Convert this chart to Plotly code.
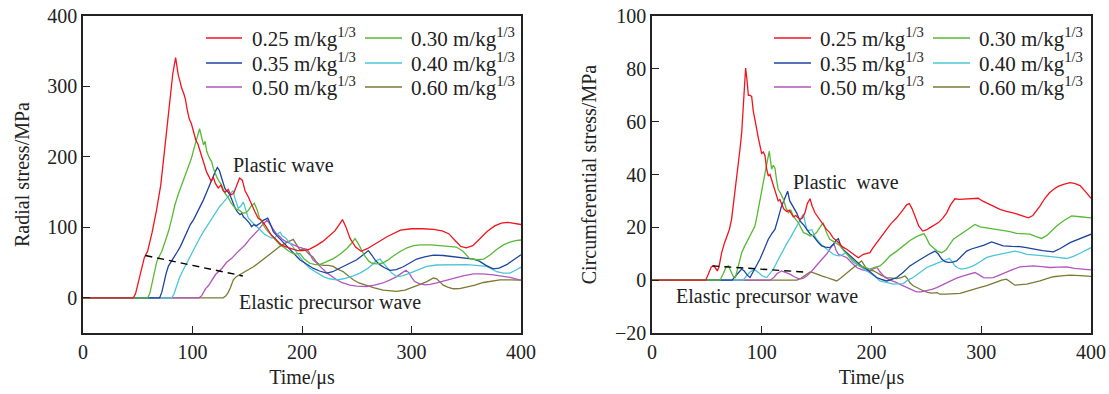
import plotly.graph_objects as go

# ---------------- radial stress (left panel) ----------------
RAD_T_025 = [0, 46, 48, 50, 53, 56, 59, 63, 67, 71, 75, 79, 82, 84.6, 87, 88.5, 90, 92, 93.5, 95, 97, 99, 101, 103, 105, 107, 109, 111, 113, 115, 117, 119, 121, 123.5, 126, 128, 130, 132.5, 135, 137.5, 140, 143, 145.5, 148, 151, 154, 157, 160, 163, 166, 169, 172, 176, 181, 186, 191, 196, 201, 207, 213, 219, 225, 230, 234, 237, 240, 244, 249, 254, 260, 268, 278, 290, 300, 310, 320, 328, 334, 340, 345, 350, 356, 362, 369, 376, 382, 388, 394, 400]
RAD_S_025 = [0, 0, 6, 18, 40, 57, 66, 92, 123, 160, 217, 280, 318, 341, 316, 308, 298, 290, 282, 268, 254, 247, 235, 224, 218, 208, 200, 190, 178, 172, 165, 171, 162, 156, 160, 152, 150, 154, 146, 148, 158, 170, 167, 152, 143, 132, 122, 113, 110, 104, 96, 89, 83, 75, 72, 70, 67, 67, 69, 74, 80, 88, 95, 104, 111, 101, 84, 72, 66, 70, 78, 87, 96, 98, 98, 97, 95, 91, 81, 73, 71, 74, 83, 94, 102, 106, 107, 106, 104]

RAD_T_030 = [0, 59, 61, 63, 65, 67.3, 70, 72, 75, 78, 81, 84, 87, 90, 93, 96, 99, 101, 103, 105, 106.5, 108, 110, 111.5, 113, 115, 117.5, 119, 120.5, 122, 124, 126.6, 129, 131, 133, 135, 137, 139, 141, 143, 146, 149, 151, 153.5, 156.5, 159, 161, 163, 166, 169, 172, 176, 180, 184, 188, 193, 198, 202, 207, 212, 216, 222, 229, 235, 241, 245, 248.4, 251, 254, 257, 261, 264, 268, 273, 278, 283, 290, 296, 302, 308, 318, 326, 334, 341, 347, 353, 360, 366, 372, 378, 384, 390, 395, 400]
RAD_S_030 = [0, 0, 6, 20, 35, 51, 60, 66, 80, 94, 112, 132, 147, 160, 172, 184, 198, 210, 222, 234, 240, 230, 217, 222, 208, 200, 193, 184, 177, 172, 166, 160, 150, 146, 141, 135, 130, 127, 125, 124, 120, 121, 124, 130, 134, 125, 114, 108, 100, 94, 89, 82, 75, 71, 66, 62, 63, 55, 49, 47, 47, 51, 56, 62, 70, 77, 84, 78, 68, 60, 52, 49, 48, 49, 53, 59, 66, 71, 74, 75, 75, 74, 73, 72, 66, 56, 54, 55, 61, 69, 75, 79, 81, 82]

RAD_T_035 = [0, 70, 72, 74, 76, 78, 80, 83, 86, 89, 92, 95, 98, 101, 104, 107, 110, 113, 115.5, 118, 120.5, 122.7, 124.5, 126.6, 128, 129.7, 131, 132.5, 134.2, 136, 137.5, 139, 141, 143.4, 145, 146.5, 148, 150, 152, 154, 156, 158, 160, 162, 164.5, 166.5, 168.7, 171, 173.8, 176, 178.5, 181.4, 184, 187, 190.6, 194, 198, 204, 210, 216, 222.5, 228, 234.7, 240, 245, 250, 255, 260.6, 264, 267, 271, 275, 280.4, 286, 292.5, 298, 304.7, 312, 320, 329, 338, 347, 356.5, 362, 368, 374.7, 380, 386.9, 393, 400]
RAD_S_035 = [0, 0, 8, 22, 35, 45, 50, 56, 65, 73, 84, 95, 104, 111, 120, 130, 139, 150, 160, 169, 178, 185, 181, 170, 162, 155, 152, 150, 146, 138, 131, 127, 122, 118, 120, 115, 113, 110, 106, 101, 104, 102, 104, 106, 110, 112, 113, 105, 94, 90, 86, 80, 76, 71, 66, 60, 54, 48, 42, 38, 35, 37, 42, 46, 50, 54, 60, 67, 60, 53, 47, 43, 39, 40, 44, 49, 55, 58, 60.5, 60, 58.6, 57, 55, 52, 46, 41, 42, 47, 54, 61]

RAD_T_040 = [0, 81, 83, 85, 88, 91, 94.7, 98, 101, 103.8, 107, 110, 112.9, 116, 119, 122, 125, 128, 130.5, 132.7, 135, 137, 139, 141.8, 144, 146.4, 148, 151, 154, 157, 160, 163.2, 166, 169.3, 172, 175.3, 178, 180, 182, 185, 188, 192, 198, 202, 207, 213, 219.5, 225, 231.7, 238, 246.8, 253, 259, 265, 268, 271.2, 274, 276, 278.8, 282, 286.5, 292, 298.6, 306, 313.9, 323, 332, 341, 350.3, 359, 368.7, 373, 377.8, 384, 390, 395, 400]
RAD_S_040 = [0, 0, 5, 15, 28, 38, 49, 60, 70, 78, 86, 94, 101, 109, 116, 123, 130, 135, 140, 144, 149, 152, 140, 127, 130, 136, 128, 113, 108, 104, 99, 94, 90, 87, 85, 85, 91, 93, 88, 85, 80, 72, 58, 50, 42, 36, 30, 27, 25.5, 27, 31, 35, 40.6, 48, 53, 55, 50, 45, 40, 35, 30, 31, 35, 40, 44.5, 46.5, 47, 47, 47, 46, 44.5, 41, 37, 35, 35, 39, 43.5]

RAD_T_050 = [0, 106, 108.4, 110, 112, 114.5, 117, 119, 121, 123.6, 127, 131, 135.8, 140, 144, 148, 152, 156, 160, 163, 166.2, 168, 170, 173, 176, 179, 182, 185, 189, 193, 197, 201, 204, 206, 208, 210, 213, 216, 219.5, 223, 227, 231.7, 236, 243.8, 250, 259, 266, 274, 280, 286.5, 291, 295, 298, 300, 303, 307, 312.3, 317, 323, 330, 338.2, 347, 356.5, 365, 374.7, 382, 390, 395, 400]
RAD_S_050 = [0, 0, 3, 8, 13, 17, 23, 28, 33, 37, 42, 50, 56, 63, 69, 75, 83, 89, 96, 102, 108, 110, 106, 98, 92, 88, 83, 80, 77, 74, 72, 70, 69, 66, 60, 54, 50, 45, 40, 35, 30, 25.5, 22, 18, 16.5, 16, 18, 21, 25, 30, 35, 39, 35, 29, 23, 20, 18.4, 19, 21, 24, 28, 31, 34, 34, 32.6, 31, 29, 27, 25]

RAD_T_060 = [0, 128, 130, 132, 134.5, 137.3, 140, 143.4, 147, 151, 155.6, 160, 164, 167.7, 172, 176, 179.9, 184, 188, 192, 194, 196, 198, 201, 204, 207, 210, 213, 216, 220, 224, 228.6, 232, 237.7, 242, 246.8, 252, 259, 266, 274, 280, 286.5, 294, 301.6, 308, 313.9, 318, 320, 323, 326, 329, 333, 338.2, 344, 350.3, 358, 365.6, 373, 380.8, 390, 400]
RAD_S_060 = [0, 0, 2, 6, 14, 25.5, 30, 33, 36, 40, 44, 49, 54, 59, 64, 69, 73, 77, 80, 83, 78, 72, 68, 69, 66, 61, 58, 51, 47, 46, 46, 44.5, 41, 37, 32, 25.5, 21, 17, 14, 11, 10, 9, 11, 15, 19, 23, 27, 28, 27, 22, 18, 15, 12.8, 13, 15, 18, 21.7, 24, 25.5, 25.5, 25]

RAD_GUIDE_T = [57, 146]
RAD_GUIDE_S = [60, 31]

# ---------------- circumferential stress (right panel) ----------------
CIR_T_025 = [0, 49, 52, 54, 56.5, 58, 59.5, 61, 63.5, 66, 68, 70.5, 72.5, 74, 76, 78.7, 80, 81.7, 83, 84.3, 85.3, 86.5, 87.8, 89, 90.8, 92.3, 93.9, 95.5, 96.9, 98.5, 99.9, 101.5, 103, 104.5, 106, 107.5, 109, 110.5, 112, 113.5, 115, 116.5, 118, 120, 122.7, 125, 128.8, 131, 134.8, 137, 139.4, 141.5, 144, 146, 148.5, 151, 153, 156, 159, 162, 165, 168, 171.3, 174, 177.4, 181, 185, 188, 192.6, 198.6, 201, 204.7, 209, 213.8, 218, 223, 229, 232, 234.5, 237, 239.6, 243, 246.6, 250, 253.3, 257, 261, 265, 268.5, 272, 276, 280, 286.7, 292, 297.3, 301, 305, 311, 317, 323, 329, 336, 343, 347, 350, 353.5, 358, 362, 365.7, 370, 375, 380.9, 385, 390, 395, 400]
CIR_S_025 = [0, 0, 3, 5, 5.4, 4.5, 3.5, 5, 10.4, 14, 16, 19.2, 23, 28, 34, 43, 49, 55.7, 64, 73, 80.3, 76, 70, 70, 69.6, 64, 61, 57, 53.8, 50, 48, 48.5, 47, 42, 39.4, 40, 38, 36, 34, 32, 30, 30.5, 28.7, 27, 26, 26.5, 24, 24.5, 23, 23.5, 25.5, 29, 30.8, 28, 25.5, 24, 22.4, 21, 19.2, 18, 16, 15, 13.6, 12.5, 11.7, 10.5, 9.2, 8.5, 9.8, 10.4, 12, 14.2, 16.5, 19.2, 21.5, 23.6, 26.8, 28.5, 29, 27, 24.3, 20.5, 18.6, 19, 19.9, 20.8, 21.8, 23.5, 25.5, 28.5, 30.8, 30.6, 30.8, 30.8, 31, 30, 29.3, 28, 26.8, 26, 25.5, 24.5, 23.6, 24.5, 26, 28, 31, 33, 34.3, 35.5, 36.3, 36.9, 36.6, 35.8, 33.5, 31]

CIR_T_030 = [0, 62, 65, 67.5, 69.6, 72, 74, 76, 78, 80, 81.7, 84, 87.8, 91, 93.8, 96, 98.4, 101, 103, 105, 106.9, 108, 109, 110.5, 112, 113.5, 115, 117, 119.7, 122, 124.2, 126.5, 128.8, 131, 133.3, 135.5, 138, 141, 144, 147, 150, 153, 156, 159, 162, 166, 171.3, 175, 180.4, 185, 189.5, 194, 198.6, 203, 207.7, 212, 216.9, 223, 229, 235, 241, 245, 247.8, 250, 253, 256.3, 260, 264, 268, 274.6, 280, 285, 290, 294.3, 299, 303.4, 310, 317, 325, 332.3, 338, 344.4, 350, 355, 360, 364, 368.7, 375, 382.4, 390, 400]
CIR_S_030 = [0, 0, 2.5, 5, 5.4, 3.5, 1.5, 1, 4, 8, 10.4, 12.5, 15.5, 18, 20.5, 25, 30.6, 36, 40.6, 45, 48.8, 45, 42, 43.5, 42.5, 38, 34.3, 33, 30.6, 27.5, 25.5, 26.5, 24.3, 23, 21.8, 20, 18, 17.5, 16.7, 17, 18, 20, 21.8, 18, 15.5, 14.5, 13, 11, 8.6, 7, 5.4, 4.8, 4.2, 4.8, 5.4, 7, 9.2, 11, 13, 15, 16.5, 17.3, 17.6, 16, 13.5, 12.3, 11, 10.4, 11.5, 15.5, 17, 18.6, 20, 21.1, 20.2, 19.9, 19.6, 19.2, 18.5, 17.7, 17.6, 17.4, 16.5, 15.8, 17, 18.8, 20.5, 22.5, 24.3, 24, 23.6]

CIR_T_035 = [0, 73, 76, 79, 81.7, 84, 87, 89.3, 92, 95, 98.4, 102, 106, 109, 112, 115, 118, 121, 123.6, 125.5, 127.3, 129.5, 131.8, 133.3, 134.8, 138, 141, 144, 147, 151, 154.6, 158, 162, 165, 167.5, 169.8, 172, 174.5, 177.4, 181, 186.5, 191, 195.6, 200, 204.7, 209, 213.8, 218, 223, 229, 235, 241, 247.2, 252, 257.9, 261, 264, 267, 270, 274, 277.6, 282, 286.7, 291, 295.8, 302, 309.5, 314, 320, 328, 335.3, 341, 347.5, 356, 365.7, 372, 380.9, 390, 400]
CIR_S_035 = [0, 0, 1.5, 3, 4.2, 3.5, 1.8, 1, 3, 5, 8, 11.5, 15.5, 17.5, 19.2, 23.5, 28, 31, 33.7, 30, 28.7, 27.5, 25.5, 24, 22.4, 21, 19.2, 17.5, 16.7, 14.5, 13, 12.5, 12.3, 13.5, 15, 15.7, 13, 11.5, 10.4, 9, 6.7, 5.3, 4.2, 2.5, 1, 0.3, -0.3, 0.2, 1, 3, 5.4, 7, 8.6, 9.7, 11, 9.8, 8, 7, 6.7, 6.8, 7.3, 9, 11, 11.8, 12.3, 13.2, 14.5, 13.8, 13, 12.8, 12.7, 12.3, 11.7, 11.2, 10.7, 12, 14.2, 15.8, 17.4]

CIR_T_040 = [0, 83, 86, 89, 92.3, 95, 98, 101, 104.5, 107, 110.6, 114, 117, 119.7, 123, 126, 128.8, 132, 135, 137.9, 139.5, 141, 143, 145.5, 148, 150, 154, 157.6, 161, 165.2, 168, 171.3, 174, 177.4, 180, 183, 186.5, 192, 198.6, 203, 207.7, 214, 220, 229, 233, 238, 244, 250.3, 256, 262.4, 267, 271, 273.5, 276, 279, 282, 287, 292.8, 299, 305, 311, 317, 324, 330.7, 336, 341.4, 350, 359.6, 368, 377.8, 384, 390, 395, 400]
CIR_S_040 = [0, 0, 1.5, 3, 3.9, 3.5, 2.5, 1.5, 1, 2.5, 4.2, 7, 9.5, 11.7, 14, 16, 18, 20.5, 22.7, 25, 22, 19.2, 18.8, 19.2, 17, 15.5, 13.5, 12.3, 11, 9.8, 9.4, 9.2, 9.8, 10.4, 8.5, 7, 6, 4.5, 2.9, 1.5, -0.3, -1, -1.5, -1.3, 0, 1, 3, 4.8, 5.8, 6.7, 7.5, 8.2, 7, 5.4, 4.6, 4.2, 4.6, 5.4, 7, 8.6, 9.3, 9.8, 10.4, 11, 10.5, 9.8, 9.5, 9.2, 8.7, 8.2, 9, 10.2, 11.3, 12.3]

CIR_T_050 = [0, 107.5, 111, 114, 118, 121, 125.7, 130, 134.8, 138, 141, 145, 150, 155, 159, 162, 164, 166, 167.5, 169.8, 173, 177.4, 181, 186.5, 191, 195.6, 200, 203, 205, 208, 212.3, 217, 223, 227, 232, 236, 241, 245, 250, 255, 259.4, 265, 271.5, 277, 283.7, 289, 294.3, 298, 302, 306, 311, 317, 323, 329, 335.3, 341, 347.5, 355, 362.6, 370, 377.8, 385, 392, 400]
CIR_S_050 = [0, 0, 1, 2.5, 3.5, 3, 2.3, 1.2, 0.4, 0.8, 1.6, 3.2, 5.4, 8, 9.8, 11.8, 13, 13.6, 11.5, 9.8, 9.2, 8.6, 7, 4.8, 4, 3.5, 4, 4.6, 4.8, 3, 1, 0, -0.9, -1.8, -2.8, -3.6, -4.4, -4.4, -4, -3.5, -2.8, -1.6, -0.3, 0.7, 1.6, 2.3, 2.9, 2, 1, 0.9, 1, 2, 3.1, 4.1, 5, 5.3, 5.4, 5.1, 4.8, 4.9, 5, 4.5, 4.2, 3.9]

CIR_T_060 = [0, 132, 136, 140, 144, 148, 151, 154.6, 158, 163, 168.3, 172, 176, 180.4, 185, 188, 191, 193, 195.6, 198, 201, 204.7, 209, 213.8, 218, 223, 227, 230.5, 233, 235, 238, 242, 247.2, 251, 255, 260, 262, 268.5, 274, 280.6, 286, 292.8, 299, 305, 312, 318.6, 323, 326, 330.7, 336, 341.4, 347, 353.5, 359, 365.7, 373, 381, 390, 400]
CIR_S_060 = [0, 0, 0.8, 2, 3.1, 2.7, 2.1, 1.6, 1.2, 0.5, -0.3, 0.8, 2.1, 3.5, 5.2, 6.3, 7.3, 5.8, 4.2, 3.5, 3.7, 2.9, 1.8, 1, 0.7, 0.6, 1, 1.6, 0.5, -1, -2.1, -3, -4, -4.6, -4.9, -4.7, -5.3, -5.3, -5.2, -5, -4.3, -3.4, -2.7, -2.1, -1, 0, 0.4, -0.6, -1.9, -1.7, -1.5, -0.9, -0.3, 0.5, 1.3, 1.6, 1.9, 1.7, 1.4]

CIR_GUIDE_T = [55, 138]
CIR_GUIDE_S = [5.4, 3.1]

SERIES_NAMES = ["0.25", "0.30", "0.35", "0.40", "0.50", "0.60"]
COLORS = ["#f0141e", "#58b936", "#1c44a0", "#4cc5d6", "#b256bd", "#7b7934"]

RADIAL_T = [RAD_T_025, RAD_T_030, RAD_T_035, RAD_T_040, RAD_T_050, RAD_T_060]
RADIAL_S = [RAD_S_025, RAD_S_030, RAD_S_035, RAD_S_040, RAD_S_050, RAD_S_060]
CIRC_T = [CIR_T_025, CIR_T_030, CIR_T_035, CIR_T_040, CIR_T_050, CIR_T_060]
CIRC_S = [CIR_S_025, CIR_S_030, CIR_S_035, CIR_S_040, CIR_S_050, CIR_S_060]

FONT = "Liberation Serif, Times New Roman, serif"
INK = "#222222"
W, H = 1109, 394

fig = go.Figure()

# draw curves in reverse so the 0.25 curve sits on top
for i in reversed(range(6)):
    fig.add_trace(go.Scatter(x=RADIAL_T[i], y=RADIAL_S[i], mode="lines",
                             line=dict(color=COLORS[i], width=1.3),
                             xaxis="x", yaxis="y", showlegend=False))
    fig.add_trace(go.Scatter(x=CIRC_T[i], y=CIRC_S[i], mode="lines",
                             line=dict(color=COLORS[i], width=1.3),
                             xaxis="x2", yaxis="y2", showlegend=False))

fig.add_trace(go.Scatter(x=RAD_GUIDE_T, y=RAD_GUIDE_S, mode="lines",
                         line=dict(color="black", width=1.4, dash="7px,5px"),
                         xaxis="x", yaxis="y", showlegend=False))
fig.add_trace(go.Scatter(x=CIR_GUIDE_T, y=CIR_GUIDE_S, mode="lines",
                         line=dict(color="black", width=1.4, dash="7px,5px"),
                         xaxis="x2", yaxis="y2", showlegend=False))


def px_x(p):
    return p / W


def px_y(p):
    return 1 - p / H


axis_common = dict(showgrid=False, zeroline=False, showline=True, mirror=True,
                   linecolor=INK, linewidth=1.6, ticks="inside", ticklen=7,
                   tickwidth=1.2, tickcolor=INK, automargin=False,
                   tickfont=dict(family=FONT, size=20, color=INK))
title_font = dict(family=FONT, size=20, color=INK)

fig.update_layout(
    template="none",
    width=W, height=H,
    margin=dict(l=0, r=0, t=0, b=0, pad=0),
    paper_bgcolor="white", plot_bgcolor="white",
    font=dict(family=FONT, size=20, color=INK),
    showlegend=False,
    xaxis=dict(domain=[px_x(83), px_x(521)], range=[0, 400], tickvals=[0, 100, 200, 300, 400],
               anchor="y", title=dict(text="Time/μs", standoff=8, font=title_font),
               **axis_common),
    yaxis=dict(domain=[px_y(333), px_y(16)], range=[-50, 400], tickvals=[0, 100, 200, 300, 400],
               anchor="x", title=dict(text="Radial stress/MPa", standoff=12, font=title_font),
               **axis_common),
    xaxis2=dict(domain=[px_x(652), px_x(1091)], range=[0, 400], tickvals=[0, 100, 200, 300, 400],
                anchor="y2", title=dict(text="Time/μs", standoff=8, font=title_font),
                **axis_common),
    yaxis2=dict(domain=[px_y(333), px_y(16)], range=[-20, 100], tickvals=[-20, 0, 20, 40, 60, 80, 100],
                anchor="x2", title=dict(text="Circumferential stress/MPa", standoff=13, font=title_font),
                **axis_common),
)

# hand-built two-column legends
LEG_ROWS = [38, 63, 87]
legend_layout = [
    # (line x0, line x1, text x) for each column, left panel then right panel
    [(206, 242, 250), (365, 402, 409)],
    [(774, 811, 818), (933, 970, 977)],
]
for cols in legend_layout:
    for k in range(6):
        row, col = k // 2, k % 2
        x0, x1, xt = cols[col]
        yy = px_y(LEG_ROWS[row])
        fig.add_shape(type="line", xref="paper", yref="paper",
                      x0=px_x(x0), x1=px_x(x1), y0=yy, y1=yy,
                      line=dict(color=COLORS[k], width=1.4))
        fig.add_annotation(xref="paper", yref="paper", x=px_x(xt), y=yy,
                           xanchor="left", yanchor="middle", showarrow=False,
                           text=f"{SERIES_NAMES[k]} m/kg<sup>1/3</sup>",
                           font=dict(family=FONT, size=21, color=INK))

# wave labels
labels = [
    ("x", "y", 135, 189, "Plastic wave"),
    ("x", "y", 141, -7, "Elastic precursor wave"),
    ("x2", "y2", 127, 37, "Plastic  wave"),
    ("x2", "y2", 20, -6.3, "Elastic precursor wave"),
]
for xr, yr, xv, yv, txt in labels:
    fig.add_annotation(xref=xr, yref=yr, x=xv, y=yv, xanchor="left", yanchor="middle",
                       showarrow=False, text=txt.replace("  ", "&nbsp; "),
                       font=dict(family=FONT, size=20, color=INK))

fig.write_html("out.html")
